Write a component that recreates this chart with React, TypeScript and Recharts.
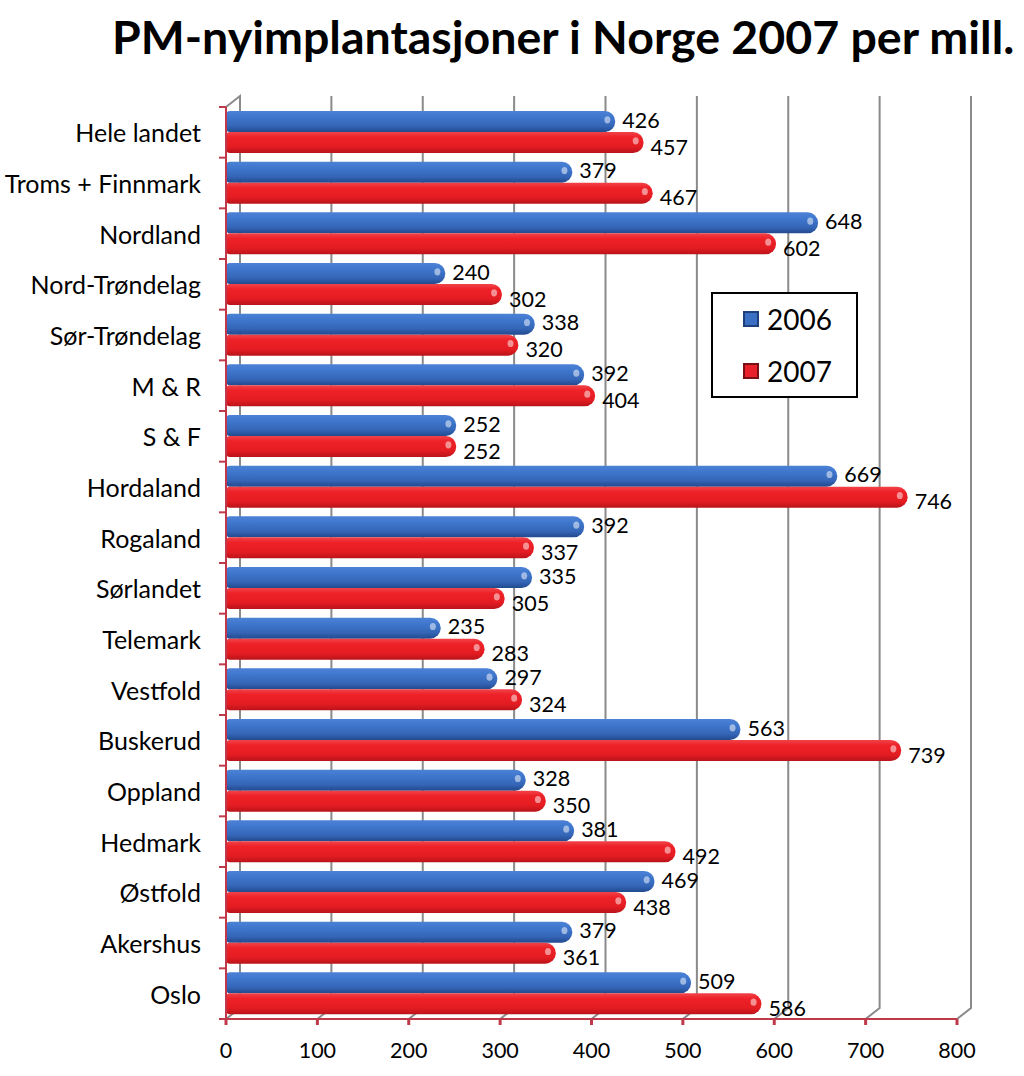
import React from 'react';
import { BarChart, Bar, XAxis, YAxis, CartesianGrid, LabelList, Legend } from 'recharts';

const categories = ['Hele landet', 'Troms + Finnmark', 'Nordland', 'Nord-Trøndelag', 'Sør-Trøndelag', 'M & R', 'S & F', 'Hordaland', 'Rogaland', 'Sørlandet', 'Telemark', 'Vestfold ', 'Buskerud', 'Oppland', 'Hedmark', 'Østfold', 'Akershus', 'Oslo'];
const values2006 = [426, 379, 648, 240, 338, 392, 252, 669, 392, 335, 235, 297, 563, 328, 381, 469, 379, 509];
const values2007 = [457, 467, 602, 302, 320, 404, 252, 746, 337, 305, 283, 324, 739, 350, 492, 438, 361, 586];
const xTicks = [0, 100, 200, 300, 400, 500, 600, 700, 800];
const seriesNames = ['2006', '2007'];

const data = categories.map((name, i) => ({ name, v2006: values2006[i], v2007: values2007[i] }));

const W = 1024;
const H = 1076;
const M = { top: 107, right: 67, bottom: 17, left: 0 };
const X_AXIS_H = 40;
const Y_AXIS_W = 226;
const PLOT_H = H - M.top - M.bottom - X_AXIS_H;
const BAND = PLOT_H / categories.length;
const AXIS_RED = '#c0394b';
const FONT = 'Lato, "Open Sans", sans-serif';

const makeCyl = (gradId: string) => (props: any) => {
  const { x, y, width, height } = props;
  if (!width || width <= 0) return <g />;
  const r = height / 2;
  const rl = 4;
  const xe = x + width - r;
  const d = `M ${x + rl} ${y} L ${xe} ${y} A ${r} ${r} 0 0 1 ${xe} ${y + height} L ${x + rl} ${y + height} A ${rl} ${rl} 0 0 1 ${x} ${y + height - rl} L ${x} ${y + rl} A ${rl} ${rl} 0 0 1 ${x + rl} ${y} Z`;
  return (
    <g>
      <path d={d} fill={`url(#${gradId})`} />
      <ellipse cx={x + width - r * 0.75} cy={y + height * 0.42} rx={3} ry={3.6} fill="#ffffff" opacity={0.5} />
    </g>
  );
};

const BlueCyl = makeCyl('gBlue');
const RedCyl = makeCyl('gRed');

const makeLabel = (dy: number) => (props: any) => {
  const { x, y, width, height, value } = props;
  return (
    <text x={x + width + 7} y={y + height / 2 + dy} fontSize={21.5} fontFamily={FONT} fill="#000" dominantBaseline="central">
      {value}
    </text>
  );
};

const YTick = (props: any) => {
  const { x, y, payload, index } = props;
  return (
    <g>
      <line x1={x - 7} x2={x} y1={y - BAND / 2} y2={y - BAND / 2} stroke={AXIS_RED} strokeWidth={2} />
      {index === categories.length - 1 && (
        <line x1={x - 7} x2={x} y1={y + BAND / 2} y2={y + BAND / 2} stroke={AXIS_RED} strokeWidth={2} />
      )}
      <text x={x - 25} y={y} textAnchor="end" dominantBaseline="central" fontSize={25} fontFamily={FONT} fill="#000">
        {payload.value}
      </text>
    </g>
  );
};

const gridLine = (props: any) => {
  const { x1, y1, y2 } = props;
  const dx = 14;
  const dy = 11;
  const first = Math.abs(x1 - (M.left + Y_AXIS_W)) < 1;
  const d = first
    ? `M ${x1} ${y2} L ${x1 + dx} ${y2 - dy} L ${x1 + dx} ${y1 - dy} L ${x1} ${y1}`
    : `M ${x1} ${y2} L ${x1 + dx} ${y2 - dy} L ${x1 + dx} ${y1 - dy}`;
  return <path key={`g-${x1}`} d={d} fill="none" stroke="#8a8a8a" strokeWidth={2} />;
};

const legendColors = [
  { fill: '#3a6fc4', border: '#1d3f7a' },
  { fill: '#e8202a', border: '#7a1015' },
];

const LegendBox = () => (
  <div
    style={{
      width: 147,
      height: 106,
      border: '2px solid #000',
      background: '#fff',
      display: 'flex',
      flexDirection: 'column',
      justifyContent: 'center',
      gap: 20,
      paddingLeft: 30,
      boxSizing: 'border-box',
    }}
  >
    {seriesNames.map((n, i) => (
      <div key={n} style={{ display: 'flex', alignItems: 'center', height: 32 }}>
        <div
          style={{
            width: 12,
            height: 12,
            background: legendColors[i].fill,
            border: `2px solid ${legendColors[i].border}`,
            marginRight: 8,
          }}
        />
        <span style={{ fontFamily: FONT, fontSize: 28, color: '#000', lineHeight: '32px' }}>{n}</span>
      </div>
    ))}
  </div>
);

export default function App() {
  return (
    <div style={{ position: 'absolute', left: 0, top: 0, width: W, height: H, background: '#fff' }}>
      <div
        style={{
          position: 'absolute',
          left: 0,
          top: 6,
          width: W,
          paddingLeft: 112,
          boxSizing: 'border-box',
          fontFamily: FONT,
          fontWeight: 700,
          fontSize: 46.5,
          color: '#000',
          whiteSpace: 'nowrap',
          lineHeight: '60px',
        }}
      >
        PM-nyimplantasjoner i Norge 2007 per mill.
      </div>
      <BarChart width={W} height={H} data={data} layout="vertical" margin={M} barGap={0} barSize={21}>
        <defs>
          <linearGradient id="gBlue" x1="0" y1="0" x2="0" y2="1">
            <stop offset="0" stopColor="#4d82d6" />
            <stop offset="0.25" stopColor="#4079cf" />
            <stop offset="0.7" stopColor="#3566b8" />
            <stop offset="1" stopColor="#224a8e" />
          </linearGradient>
          <linearGradient id="gRed" x1="0" y1="0" x2="0" y2="1">
            <stop offset="0" stopColor="#f0444a" />
            <stop offset="0.25" stopColor="#ee2128" />
            <stop offset="0.7" stopColor="#e41c22" />
            <stop offset="1" stopColor="#b8141a" />
          </linearGradient>
        </defs>
        <CartesianGrid horizontal={false} vertical={gridLine} />
        <XAxis
          type="number"
          domain={[0, 800]}
          ticks={xTicks}
          interval={0}
          height={X_AXIS_H}
          axisLine={{ stroke: AXIS_RED, strokeWidth: 2 }}
          tickLine={{ stroke: AXIS_RED, strokeWidth: 3 }}
          tickSize={6}
          tickMargin={18}
          tick={{ fill: '#000', fontSize: 21.5, fontFamily: FONT }}
        />
        <YAxis
          type="category"
          dataKey="name"
          width={Y_AXIS_W}
          interval={0}
          axisLine={{ stroke: AXIS_RED, strokeWidth: 2 }}
          tickLine={false}
          tickSize={0}
          tickMargin={0}
          tick={<YTick />}
        />
        <Legend
          layout="vertical"
          align="center"
          verticalAlign="middle"
          wrapperStyle={{ left: 711, top: 292, width: 147 }}
          content={<LegendBox />}
        />
        <Bar dataKey="v2006" name="2006" shape={BlueCyl} isAnimationActive={false}>
          <LabelList dataKey="v2006" content={makeLabel(-2)} />
        </Bar>
        <Bar dataKey="v2007" name="2007" shape={RedCyl} isAnimationActive={false}>
          <LabelList dataKey="v2007" content={makeLabel(4)} />
        </Bar>
      </BarChart>
    </div>
  );
}
